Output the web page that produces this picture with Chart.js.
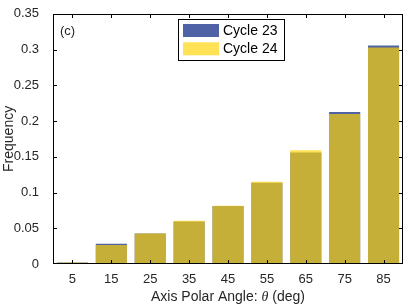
<!DOCTYPE html>
<html>
<head>
<meta charset="utf-8">
<script src="https://cdn.jsdelivr.net/npm/chart.js@4"></script>
<style>
  html, body { margin: 0; padding: 0; background: #fff; }
  #wrap { width: 407px; height: 305px; position: relative; }
</style>
</head>
<body>
<div id="wrap"><canvas id="chart"></canvas></div>
<script>
const angles = ['5', '15', '25', '35', '45', '55', '65', '75', '85'];
const cycle23 = [0.0022, 0.0285, 0.0425, 0.0595, 0.081, 0.1135, 0.156, 0.2125, 0.3055];
const cycle24 = [0.0022, 0.0265, 0.0425, 0.0605, 0.0815, 0.115, 0.159, 0.210, 0.303];
const yTicks = [0, 0.05, 0.1, 0.15, 0.2, 0.25, 0.3, 0.35];

const axisColor = '#262626';
const fontFamily = '"Liberation Sans", Arial, Helvetica, sans-serif';

// axes box with inward ticks, legend, (c) label and x title
const axesBox = {
  id: 'axesBox',
  afterDraw(chart) {
    const { ctx, chartArea, scales } = chart;
    const L = Math.round(chartArea.left), R = Math.round(chartArea.right);
    const T = Math.round(chartArea.top), B = Math.round(chartArea.bottom);
    const tl = 4;
    ctx.save();
    ctx.globalAlpha = 1;
    ctx.globalCompositeOperation = 'source-over';
    ctx.fillStyle = '#000';
    // box, same way as the legend border
    ctx.fillRect(L, T, R - L, 1);
    ctx.fillRect(L, B - 1, R - L, 1);
    ctx.fillRect(L, T, 1, B - T);
    ctx.fillRect(R - 1, T, 1, B - T);
    // inward ticks
    for (let i = 0; i < angles.length; i++) {
      const x = Math.round(scales.x.getPixelForValue(i));
      ctx.fillRect(x, B - tl, 1, tl);
      ctx.fillRect(x, T, 1, tl);
    }
    yTicks.forEach(v => {
      const y = Math.min(Math.round(scales.y.getPixelForValue(v)), B - 1);
      ctx.fillRect(L, y, tl, 1);
      ctx.fillRect(R - tl, y, tl, 1);
    });

    ctx.fillStyle = axisColor;
    ctx.font = '13px ' + fontFamily;
    ctx.textBaseline = 'middle';
    ctx.textAlign = 'left';
    ctx.fillText('(c)', L + 7, T + 17);

    // legend
    const lx = 178, ly = 19, lw = 107, lh = 42;
    ctx.fillStyle = '#000';
    ctx.fillRect(lx, ly, lw, lh);
    ctx.fillStyle = '#fff';
    ctx.fillRect(lx + 1, ly + 1, lw - 2, lh - 2);
    ctx.font = '14px ' + fontFamily;
    chart.data.datasets.slice().sort((p, q) => p.legendIdx - q.legendIdx).forEach((ds, i) => {
      const sy = ly + 5 + i * 18.3;
      ctx.fillStyle = ds.backgroundColor;
      ctx.fillRect(lx + 5, sy, 36, 13);
      ctx.fillStyle = '#000';
      ctx.fillText(ds.label, lx + 45, sy + 7);
    });

    // x title with italic theta
    const cx = (L + R) / 2, ty = 297;
    const parts = [
      ['14px ' + fontFamily, 'Axis Polar Angle: '],
      ['italic 14px "Liberation Serif", "DejaVu Serif", serif', '\u03B8'],
      ['14px ' + fontFamily, ' (deg)']
    ];
    let total = 0;
    parts.forEach(p => { ctx.font = p[0]; total += ctx.measureText(p[1]).width; });
    let x = cx - total / 2;
    ctx.fillStyle = axisColor;
    parts.forEach(p => { ctx.font = p[0]; ctx.fillText(p[1], x, ty); x += ctx.measureText(p[1]).width; });
    ctx.restore();
  }
};

new Chart(document.getElementById('chart'), {
  type: 'bar',
  plugins: [axesBox],
  data: {
    labels: angles,
    datasets: [
      {
        label: 'Cycle 23',
        legendIdx: 0,
        data: cycle23,
        backgroundColor: 'rgb(78, 98, 165)',
        order: 1,
        grouped: false,
        barPercentage: 0.8,
        categoryPercentage: 1
      },
      {
        label: 'Cycle 24',
        legendIdx: 1,
        data: cycle24,
        backgroundColor: 'rgba(255, 212, 5, 0.68)',
        order: 0,
        grouped: false,
        barPercentage: 0.8,
        categoryPercentage: 1
      }
    ]
  },
  options: {
    responsive: true,
    maintainAspectRatio: false,
    animation: false,
    layout: { padding: { top: 8, right: 4, left: 0, bottom: 0 } },
    plugins: { legend: { display: false }, tooltip: { enabled: false } },
    scales: {
      x: {
        grid: { display: false },
        border: { display: false },
        ticks: { color: axisColor, font: { family: fontFamily, size: 13 }, padding: 0, maxRotation: 0 },
        afterFit: s => { s.height = 41; }
      },
      y: {
        min: 0,
        max: 0.35,
        grid: { display: false },
        border: { display: false },
        afterBuildTicks: s => { s.ticks = yTicks.map(v => ({ value: v })); },
        ticks: {
          color: axisColor,
          font: { family: fontFamily, size: 13 },
          padding: 6,
          callback: v => String(+(+v).toFixed(2))
        },
        title: {
          display: true,
          text: 'Frequency',
          color: axisColor,
          font: { family: fontFamily, size: 14 },
          padding: { top: 1, bottom: 0 }
        },
        afterFit: s => { s.width = 53; }
      }
    }
  }
});
</script>
</body>
</html>
